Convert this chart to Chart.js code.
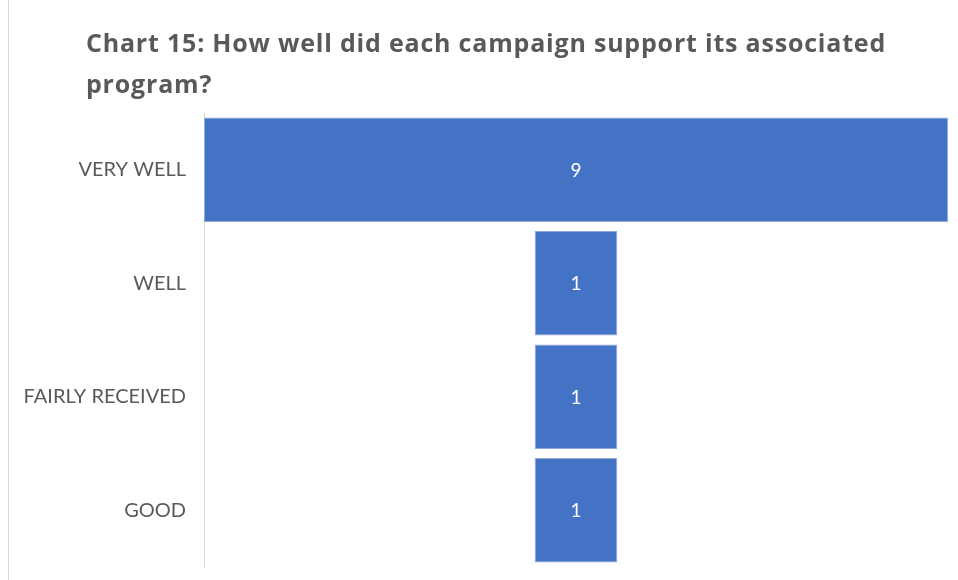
<!DOCTYPE html>
<html>
<head>
<meta charset="utf-8">
<script src="https://cdn.jsdelivr.net/npm/chart.js@4"></script>
<style>
  body { margin: 0; background: #fff; }
  #wrap { position: relative; width: 958px; height: 580px; }
  #funnelChart { display: block; }
  #title {
    position: absolute; left: 86px; top: 22px; width: 870px;
    font-family: "Open Sans", sans-serif; font-weight: bold; font-size: 25px;
    letter-spacing: 0.8px; line-height: 41px; color: #595959;
  }
</style>
</head>
<body>
<div id="wrap">
  <canvas id="funnelChart" width="958" height="580"></canvas>
  <div id="title">Chart 15: How well did each campaign support its associated<br>program?</div>
</div>
<script>
const categories = ["VERY WELL", "WELL", "FAIRLY RECEIVED", "GOOD"];
const responses = [9, 1, 1, 1];
const maxResponse = Math.max(...responses);

// funnel bars: each bar spans symmetrically around zero
const spans = responses.map((v) => [-v / 2, v / 2]);

const frameLine = {
  id: "frameLine",
  beforeDraw(chart) {
    const ctx = chart.ctx;
    ctx.save();
    ctx.strokeStyle = "#d9d9d9";
    ctx.lineWidth = 1;
    ctx.beginPath();
    ctx.moveTo(8.5, 0);
    ctx.lineTo(8.5, chart.height);
    ctx.stroke();
    ctx.restore();
  },
};

const valueLabels = {
  id: "valueLabels",
  afterDatasetsDraw(chart) {
    const ctx = chart.ctx;
    const meta = chart.getDatasetMeta(0);
    ctx.save();
    ctx.fillStyle = "#ffffff";
    ctx.font = "19px Lato, sans-serif";
    ctx.textAlign = "center";
    ctx.textBaseline = "middle";
    meta.data.forEach((bar, i) => {
      const c = bar.getCenterPoint();
      ctx.fillText(String(responses[i]), c.x, c.y + 1);
    });
    ctx.restore();
  },
};

const ctx = document.getElementById("funnelChart").getContext("2d");
new Chart(ctx, {
  type: "bar",
  data: {
    labels: categories,
    datasets: [
      {
        data: spans,
        backgroundColor: "#4472c4",
        borderColor: "#8faadc",
        borderWidth: 1,
        borderSkipped: false,
        categoryPercentage: 1,
        barPercentage: 0.92,
      },
    ],
  },
  options: {
    indexAxis: "y",
    responsive: false,
    animation: false,
    layout: {
      padding: { top: 113, right: 10, bottom: 13, left: 0 },
    },
    scales: {
      x: {
        display: false,
        min: -maxResponse / 2,
        max: maxResponse / 2,
      },
      y: {
        grid: { display: false, drawTicks: false },
        border: { display: true, color: "#d9d9d9" },
        ticks: {
          color: "#595959",
          padding: 18,
          font: { family: "Lato, sans-serif", size: 20 },
        },
        afterFit(scale) {
          // fixed axis width, and no extra room above/below for the labels
          scale.width = 204;
          scale.paddingTop = 0;
          scale.paddingBottom = 0;
        },
      },
    },
    plugins: {
      legend: { display: false },
      tooltip: { enabled: false },
      title: { display: false },
    },
  },
  plugins: [frameLine, valueLabels],
});
</script>
</body>
</html>
